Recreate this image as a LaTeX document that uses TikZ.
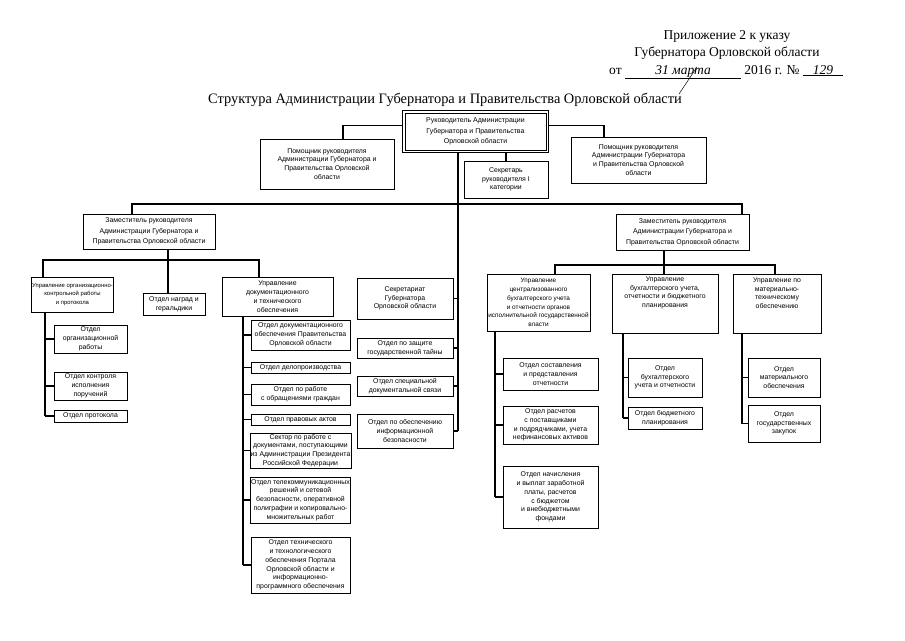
\documentclass[tikz,border=0pt]{standalone}
\usepackage{fontspec}
\setmainfont{Liberation Serif}
\newfontfamily\boxfont{Liberation Sans}
\newcommand\obox[7][]{%
  \node[box,minimum width={(#5-#3)*1pt},minimum height={(#6-#4)*1pt},#1] (#2) at ({(#3+#5)/2},{(#4+#6)/2}) {#7};}
\begin{document}
\begin{tikzpicture}[x=1pt,y=-1pt,
  box/.style={draw,line width=0.7pt,inner sep=0.5pt,align=center,
    font={\boxfont\fontsize{6.9}{8.8}\selectfont}},
  conn/.style={line width=1.5pt},
  frame/.style={line width=0.8pt},
  hdr/.style={inner sep=0pt,font={\fontsize{13.5}{16}\selectfont}}]
\useasboundingbox (0,0) rectangle (905,640);
% header
\node[hdr,anchor=base] (h1) at (727,39) {Приложение 2 к указу};
\node[hdr,anchor=base] (h2) at (727,56) {Губернатора Орловской области};
\node[hdr,anchor=base west] (h3) at (609,74) {от \underline{\makebox[116pt]{\itshape 31 марта}} 2016 г. № \underline{\makebox[40pt]{\itshape 129}}};
\draw[line width=0.5pt] (697,67) -- (679,94);
\node[inner sep=0pt,anchor=base,font={\fontsize{14.4}{17}\selectfont}] (title) at (445,103) {Структура Администрации Губернатора и Правительства Орловской области};
% boxes
\obox[line width=0.8pt,font={\boxfont\fontsize{7}{10.5}\selectfont}]{head}{405}{113}{546}{150}{Руководитель Администрации\\Губернатора и Правительства\\Орловской области}
\draw[frame] ([shift={(-2pt,2pt)}]head.north west) rectangle ([shift={(2pt,-2pt)}]head.south east);
\obox{la}{260}{139}{394}{189}{Помощник руководителя\\Администрации Губернатора и\\Правительства Орловской\\области}
\obox{sec}{464}{161}{548}{198}{Секретарь\\руководителя I\\категории}
\obox{ra}{571}{137}{706}{183}{Помощник руководителя\\Администрации Губернатора\\и Правительства Орловской\\области}
\obox[font={\boxfont\fontsize{6.9}{10.5}\selectfont}]{ld}{83}{214}{215}{249}{Заместитель руководителя\\Администрации Губернатора и\\Правительства Орловской области}
\obox[font={\boxfont\fontsize{6.9}{10.5}\selectfont}]{rd}{616}{214}{749}{250}{Заместитель руководителя\\Администрации Губернатора и\\Правительства Орловской области}
\obox[font={\boxfont\fontsize{5.9}{8.6}\selectfont}]{uo}{32}{277}{113}{312}{Управление организационно-\\контрольной работы\\и протокола}
\obox{on}{143}{293}{205}{315}{Отдел наград и\\геральдики}
\obox{ud}{222}{277}{333}{316}{Управление\\документационного\\и технического\\обеспечения}
\obox{o1}{54}{325}{127}{353}{Отдел\\организационной\\работы}
\obox{o2}{54}{372}{127}{400}{Отдел контроля\\исполнения\\поручений}
\obox{o3}{54}{410}{127}{422}{Отдел протокола}
\obox{d1}{251}{320}{350}{350}{Отдел документационного\\обеспечения Правительства\\Орловской области}
\obox{d2}{251}{362}{350}{373}{Отдел делопроизводства}
\obox{d3}{251}{384}{350}{405}{Отдел по работе\\с обращениями граждан}
\obox{d4}{251}{414}{350}{425}{Отдел правовых актов}
\obox{d5}{251}{433}{350}{468}{Сектор по работе с\\документами, поступающими\\из Администрации Президента\\Российской Федерации}
\obox{d6}{251}{477}{350}{523}{Отдел телекоммуникационных\\решений и сетевой\\безопасности, оперативной\\полиграфии и копировально-\\множительных работ}
\obox{d7}{251}{537}{350}{593}{Отдел технического\\и технологического\\обеспечения Портала\\Орловской области и\\информационно-\\программного обеспечения}
\obox{s1}{357}{278}{453}{319}{Секретариат\\Губернатора\\Орловской области}
\obox{s2}{357}{338}{453}{358}{Отдел по защите\\государственной тайны}
\obox{s3}{357}{376}{453}{396}{Отдел специальной\\документальной связи}
\obox{s4}{357}{414}{453}{448}{Отдел по обеспечению\\информационной\\безопасности}
\obox[font={\boxfont\fontsize{6.4}{8.8}\selectfont}]{uc}{487}{274}{590}{331}{Управление\\централизованного\\бухгалтерского учета\\и отчетности органов\\исполнительной государственной\\власти}
\obox{ub}{612}{274}{718}{333}{Управление\\бухгалтерского учета,\\отчетности и бюджетного\\планирования\\[14pt]}
\obox{um}{733}{274}{821}{333}{Управление по\\материально-\\техническому\\обеспечению\\[12pt]}
\obox{c1}{503}{358}{598}{390}{Отдел составления\\и представления\\отчетности}
\obox{c2}{503}{406}{598}{444}{Отдел расчетов\\с поставщиками\\и подрядчиками, учета\\нефинансовых активов}
\obox{c3}{503}{466}{598}{528}{Отдел начисления\\и выплат заработной\\платы, расчетов\\с бюджетом\\и внебюджетными\\фондами}
\obox{b1}{628}{358}{702}{397}{Отдел\\бухгалтерского\\учета и отчетности}
\obox{b2}{628}{407}{702}{429}{Отдел бюджетного\\планирования}
\obox{m1}{748}{358}{820}{397}{Отдел\\материального\\обеспечения}
\obox{m2}{748}{405}{820}{442}{Отдел\\государственных\\закупок}
% coordinates
\coordinate (busL) at (132,204);
\coordinate (busR) at (742,204);
\coordinate (cvx) at (458,0);
\coordinate (scx) at (506,0);
\coordinate (lax) at (343,0);
\coordinate (rax) at (604,0);
\coordinate (lb1) at (43,260);
\coordinate (lb2) at (168,260);
\coordinate (lb3) at (259,260);
\coordinate (rb1) at (555,265);
\coordinate (rb2) at (664,265);
\coordinate (rb3) at (775,265);
\coordinate (v1) at (45,0);
\coordinate (v2) at (243,0);
\coordinate (v3) at (495,0);
\coordinate (v4) at (623,0);
\coordinate (v5) at (742,0);
% top connectors
\draw[conn] ([shift={(-2pt,6pt)}]head.west) -| (la.north -| lax);
\draw[conn] ([shift={(2pt,6pt)}]head.east) -| (ra.north -| rax);
\draw[conn] ([yshift=-2pt]head.south -| scx) -- (sec.north -| scx);
\draw[conn] ([yshift=-2pt]head.south -| cvx) -- (cvx |- s4.east);
\foreach \n in {s1,s2,s3,s4} \draw[conn] (cvx |- \n.east) -- (\n.east);
\draw[conn] (ld.north -| busL) -- (busL) -- (busR) -- (rd.north -| busR);
% left deputy
\draw[conn] (ld.south -| lb2) -- (lb2) -- (on.north -| lb2);
\draw[conn] (uo.north -| lb1) -- (lb1) -- (lb3) -- (ud.north -| lb3);
% right deputy
\draw[conn] (rd.south -| rb2) -- (rb2) -- (ub.north -| rb2);
\draw[conn] (uc.north -| rb1) -- (rb1) -- (rb3) -- (um.north -| rb3);
% verticals
\draw[conn] (uo.south -| v1) -- (v1 |- o3.west);
\foreach \n in {o1,o2,o3} \draw[conn] (v1 |- \n.west) -- (\n.west);
\draw[conn] (ud.south -| v2) -- (v2 |- d7.west);
\foreach \n in {d1,d2,d3,d4,d5,d6,d7} \draw[conn] (v2 |- \n.west) -- (\n.west);
\draw[conn] (uc.south -| v3) -- (v3 |- c3.west);
\foreach \n in {c1,c2,c3} \draw[conn] (v3 |- \n.west) -- (\n.west);
\draw[conn] (ub.south -| v4) -- (v4 |- b2.west);
\foreach \n in {b1,b2} \draw[conn] (v4 |- \n.west) -- (\n.west);
\draw[conn] (um.south -| v5) -- (v5 |- m2.west);
\foreach \n in {m1,m2} \draw[conn] (v5 |- \n.west) -- (\n.west);
\end{tikzpicture}
\end{document}
